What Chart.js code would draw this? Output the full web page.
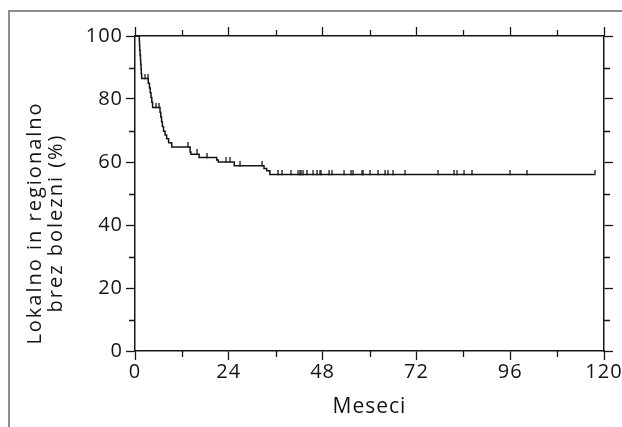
<!DOCTYPE html>
<html>
<head>
<meta charset="utf-8">
<script src="https://cdn.jsdelivr.net/npm/chart.js@4.4.1/dist/chart.umd.min.js"></script>
<style>
    html, body { margin: 0; padding: 0; background: #fff; }
    #wrap { position: relative; width: 622px; height: 427px; overflow: hidden; }
    #frame {
        position: absolute; left: 8px; top: 10px; width: 700px; height: 500px;
        border-left: 2px solid #8c8c8c; border-top: 2px solid #8c8c8c;
    }
    canvas { position: absolute; left: 0; top: 0; }
</style>
</head>
<body>
<div id="wrap">
    <div id="frame"></div>
    <canvas id="kmChart" width="622" height="427"></canvas>
</div>
<script>
// Krivulja (Kaplan-Meier): cas dogodka v mesecih in delez brez bolezni (%)
const eventTimes = [0, 1.1, 1.15, 1.2, 1.3, 1.4, 1.45, 1.55, 1.6, 1.7,
    3.4, 3.7, 3.9, 4.1, 4.3, 4.5,
    6.4, 6.6, 6.8, 7.0, 7.3, 7.7, 8.1, 8.6, 9.4,
    14.1, 14.3, 16.4, 20.9, 21.3, 25.4, 33.0, 33.7, 34.5, 117.6];
const eventSurvival = [100, 98.5, 97.0, 95.5, 94.0, 92.5, 91.0, 89.5, 88.0, 86.5,
    85.0, 83.5, 82.0, 80.5, 79.0, 77.3,
    75.8, 74.3, 72.8, 71.3, 69.8, 68.6, 67.4, 66.1, 64.8,
    63.2, 62.5, 61.4, 60.6, 60.0, 58.8, 57.9, 57.2, 56.0, 56.0];

// Cenzurirani bolniki
const censorTimes = [2.6, 3.2, 5.3, 6.1, 13.6, 15.8, 18.3, 23.4, 24.3, 26.8, 32.4,
    36.5, 37.5, 39.9, 41.8, 42.2, 42.6, 43.0, 43.9, 45.6, 46.5, 47.3, 47.7,
    49.6, 50.5, 53.5, 55.2, 55.7, 58.0, 58.4, 60.1, 62.2, 63.9, 64.8, 66.0,
    69.0, 77.6, 81.6, 82.5, 84.2, 86.1, 96.0, 100.2, 117.6];
const censorSurvival = [86.5, 86.5, 77.3, 77.3, 64.8, 62.5, 61.4, 60.0, 60.0, 58.8, 58.8,
    56.0, 56.0, 56.0, 56.0, 56.0, 56.0, 56.0, 56.0, 56.0, 56.0, 56.0, 56.0,
    56.0, 56.0, 56.0, 56.0, 56.0, 56.0, 56.0, 56.0, 56.0, 56.0, 56.0, 56.0,
    56.0, 56.0, 56.0, 56.0, 56.0, 56.0, 56.0, 56.0, 56.0];

const xTitle = 'Meseci';
const yTitleLines = ['Lokalno in regionalno', 'brez bolezni (%)'];

const FONT = '"Open Sans", sans-serif';
const axisColor = '#161616';
const textColor = '#141414';

function majorX(v) { return v % 24 === 0; }
function majorY(v) { return v % 20 === 0; }

// majhna navpicna crtica nad krivuljo za cenzurirane
const censorMark = document.createElement('canvas');
censorMark.width = 2;
censorMark.height = 10;
const cm = censorMark.getContext('2d');
cm.fillStyle = '#1a1a1a';
cm.fillRect(0.4, 0, 1.3, 5.5);

// kratke (vmesne) oznake na oseh + naslov navpicne osi
const minorTicks = {
    id: 'minorTicks',
    beforeDraw(chart) {
        chart.ctx.letterSpacing = '1px';
    },
    afterDraw(chart) {
        const ctx = chart.ctx;
        const { x, x2, y, y2 } = chart.scales;
        ctx.save();
        ctx.strokeStyle = axisColor;
        ctx.lineWidth = 1.3;
        ctx.beginPath();
        x.ticks.forEach(t => {
            if (majorX(t.value)) return;
            const px = Math.round(x.getPixelForValue(t.value)) + 0.5;
            ctx.moveTo(px, x.top); ctx.lineTo(px, x.top + 6);
            ctx.moveTo(px, x2.bottom); ctx.lineTo(px, x2.bottom - 6);
        });
        y.ticks.forEach(t => {
            if (majorY(t.value)) return;
            const py = Math.round(y.getPixelForValue(t.value)) + 0.5;
            ctx.moveTo(y.right, py); ctx.lineTo(y.right - 6, py);
            ctx.moveTo(y2.left, py); ctx.lineTo(y2.left + 6, py);
        });
        ctx.stroke();

        ctx.letterSpacing = '2px';
        ctx.font = '20px ' + FONT;
        ctx.fillStyle = textColor;
        ctx.textAlign = 'center';
        ctx.textBaseline = 'middle';
        ctx.translate(35, 223);
        ctx.rotate(-Math.PI / 2);
        yTitleLines.forEach((line, i) => ctx.fillText(line, 0, i * 21));
        ctx.restore();
    }
};

function gridFor(isMajor) {
    return {
        drawOnChartArea: false,
        drawTicks: true,
        tickLength: 9,
        tickWidth: 1.3,
        tickColor: c => isMajor(c.tick.value) ? axisColor : 'rgba(0,0,0,0)'
    };
}

const borderOpts = { display: true, color: axisColor, width: 1.5 };

new Chart(document.getElementById('kmChart').getContext('2d'), {
    type: 'line',
    data: {
        datasets: [{
            data: eventTimes.map((t, i) => ({ x: t, y: eventSurvival[i] })),
            stepped: 'before',
            borderColor: '#141414',
            borderWidth: 1.5,
            pointRadius: 0,
            fill: false
        }, {
            data: censorTimes.map((t, i) => ({ x: t, y: censorSurvival[i] })),
            showLine: false,
            pointStyle: censorMark,
            pointRadius: 5
        }]
    },
    options: {
        responsive: false,
        animation: false,
        devicePixelRatio: 1,
        layout: { padding: 0 },
        plugins: {
            legend: { display: false },
            tooltip: { enabled: false }
        },
        scales: {
            x: {
                type: 'linear', position: 'bottom', min: 0, max: 120,
                ticks: {
                    stepSize: 12, autoSkip: false, maxRotation: 0, padding: 0,
                    color: textColor, font: { family: FONT, size: 20 },
                    callback: v => majorX(v) ? v : ''
                },
                grid: gridFor(majorX),
                border: borderOpts,
                title: {
                    display: true, text: xTitle, color: textColor,
                    font: { family: FONT, size: 21 }, padding: { top: 0, bottom: 7 }
                },
                afterFit: s => { s.height = 76; }
            },
            x2: {
                type: 'linear', position: 'top', min: 0, max: 120,
                ticks: { stepSize: 12, autoSkip: false, display: false },
                grid: gridFor(majorX),
                border: borderOpts,
                afterFit: s => { s.height = 36; }
            },
            y: {
                type: 'linear', position: 'left', min: 0, max: 100,
                ticks: {
                    stepSize: 10, autoSkip: false, padding: 3,
                    color: textColor, font: { family: FONT, size: 20 },
                    callback: v => majorY(v) ? v : ''
                },
                grid: gridFor(majorY),
                border: borderOpts,
                afterFit: s => { s.width = 135; }
            },
            y2: {
                type: 'linear', position: 'right', min: 0, max: 100,
                ticks: { stepSize: 10, autoSkip: false, display: false },
                grid: gridFor(majorY),
                border: borderOpts,
                afterFit: s => { s.width = 18; }
            }
        }
    },
    plugins: [minorTicks]
});
</script>
</body>
</html>
